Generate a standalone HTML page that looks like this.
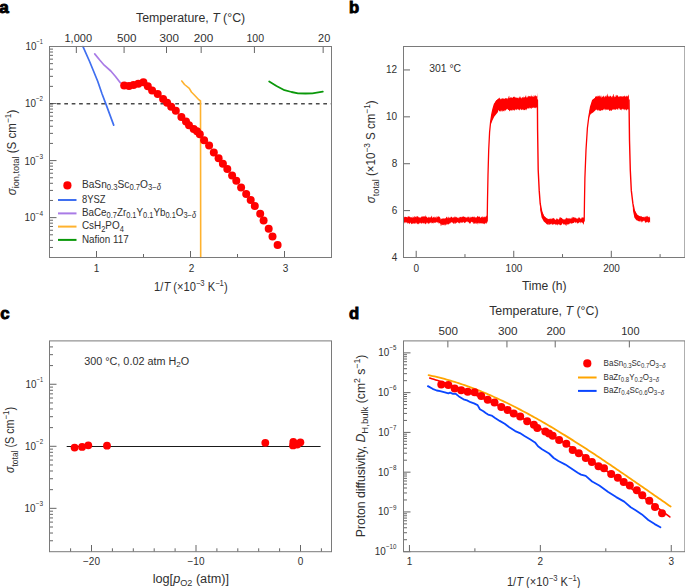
<!DOCTYPE html>
<html><head><meta charset="utf-8"><style>
html,body{margin:0;padding:0;background:#fff;}
svg{display:block;font-family:"Liberation Sans", sans-serif;}
</style></head><body>
<svg width="685" height="588" viewBox="0 0 685 588">
<rect width="685" height="588" fill="#fff"/>
<text x="-0.70" y="12.90" font-size="17.2" text-anchor="start" font-weight="bold" fill="#000" style="" stroke="#000" stroke-width="0.9">a</text>
<line x1="49.50" y1="46.50" x2="56.50" y2="46.50" stroke="#666666" stroke-width="1" />
<line x1="49.50" y1="86.37" x2="53.00" y2="86.37" stroke="#666666" stroke-width="1" />
<line x1="49.50" y1="76.33" x2="53.00" y2="76.33" stroke="#666666" stroke-width="1" />
<line x1="49.50" y1="69.20" x2="53.00" y2="69.20" stroke="#666666" stroke-width="1" />
<line x1="49.50" y1="63.67" x2="53.00" y2="63.67" stroke="#666666" stroke-width="1" />
<line x1="49.50" y1="59.15" x2="53.00" y2="59.15" stroke="#666666" stroke-width="1" />
<line x1="49.50" y1="55.34" x2="53.00" y2="55.34" stroke="#666666" stroke-width="1" />
<line x1="49.50" y1="52.03" x2="53.00" y2="52.03" stroke="#666666" stroke-width="1" />
<line x1="49.50" y1="49.11" x2="53.00" y2="49.11" stroke="#666666" stroke-width="1" />
<line x1="49.50" y1="103.54" x2="56.50" y2="103.54" stroke="#666666" stroke-width="1" />
<line x1="49.50" y1="143.41" x2="53.00" y2="143.41" stroke="#666666" stroke-width="1" />
<line x1="49.50" y1="133.37" x2="53.00" y2="133.37" stroke="#666666" stroke-width="1" />
<line x1="49.50" y1="126.24" x2="53.00" y2="126.24" stroke="#666666" stroke-width="1" />
<line x1="49.50" y1="120.71" x2="53.00" y2="120.71" stroke="#666666" stroke-width="1" />
<line x1="49.50" y1="116.20" x2="53.00" y2="116.20" stroke="#666666" stroke-width="1" />
<line x1="49.50" y1="112.38" x2="53.00" y2="112.38" stroke="#666666" stroke-width="1" />
<line x1="49.50" y1="109.07" x2="53.00" y2="109.07" stroke="#666666" stroke-width="1" />
<line x1="49.50" y1="106.15" x2="53.00" y2="106.15" stroke="#666666" stroke-width="1" />
<line x1="49.50" y1="160.59" x2="56.50" y2="160.59" stroke="#666666" stroke-width="1" />
<line x1="49.50" y1="200.46" x2="53.00" y2="200.46" stroke="#666666" stroke-width="1" />
<line x1="49.50" y1="190.41" x2="53.00" y2="190.41" stroke="#666666" stroke-width="1" />
<line x1="49.50" y1="183.29" x2="53.00" y2="183.29" stroke="#666666" stroke-width="1" />
<line x1="49.50" y1="177.76" x2="53.00" y2="177.76" stroke="#666666" stroke-width="1" />
<line x1="49.50" y1="173.24" x2="53.00" y2="173.24" stroke="#666666" stroke-width="1" />
<line x1="49.50" y1="169.42" x2="53.00" y2="169.42" stroke="#666666" stroke-width="1" />
<line x1="49.50" y1="166.11" x2="53.00" y2="166.11" stroke="#666666" stroke-width="1" />
<line x1="49.50" y1="163.20" x2="53.00" y2="163.20" stroke="#666666" stroke-width="1" />
<line x1="49.50" y1="217.63" x2="56.50" y2="217.63" stroke="#666666" stroke-width="1" />
<line x1="49.50" y1="247.46" x2="53.00" y2="247.46" stroke="#666666" stroke-width="1" />
<line x1="49.50" y1="240.33" x2="53.00" y2="240.33" stroke="#666666" stroke-width="1" />
<line x1="49.50" y1="234.80" x2="53.00" y2="234.80" stroke="#666666" stroke-width="1" />
<line x1="49.50" y1="230.28" x2="53.00" y2="230.28" stroke="#666666" stroke-width="1" />
<line x1="49.50" y1="226.46" x2="53.00" y2="226.46" stroke="#666666" stroke-width="1" />
<line x1="49.50" y1="223.16" x2="53.00" y2="223.16" stroke="#666666" stroke-width="1" />
<line x1="49.50" y1="220.24" x2="53.00" y2="220.24" stroke="#666666" stroke-width="1" />
<line x1="96.50" y1="257.50" x2="96.50" y2="251.00" stroke="#666666" stroke-width="1" />
<line x1="190.50" y1="257.50" x2="190.50" y2="251.00" stroke="#666666" stroke-width="1" />
<line x1="284.50" y1="257.50" x2="284.50" y2="251.00" stroke="#666666" stroke-width="1" />
<line x1="143.50" y1="257.50" x2="143.50" y2="254.00" stroke="#666666" stroke-width="1" />
<line x1="237.50" y1="257.50" x2="237.50" y2="254.00" stroke="#666666" stroke-width="1" />
<line x1="76.33" y1="46.50" x2="76.33" y2="53.00" stroke="#666666" stroke-width="1" />
<line x1="124.08" y1="46.50" x2="124.08" y2="53.00" stroke="#666666" stroke-width="1" />
<line x1="166.51" y1="46.50" x2="166.51" y2="53.00" stroke="#666666" stroke-width="1" />
<line x1="201.17" y1="46.50" x2="201.17" y2="53.00" stroke="#666666" stroke-width="1" />
<line x1="254.41" y1="46.50" x2="254.41" y2="53.00" stroke="#666666" stroke-width="1" />
<line x1="323.15" y1="46.50" x2="323.15" y2="53.00" stroke="#666666" stroke-width="1" />
<line x1="49.5" y1="103.8" x2="331.5" y2="103.8" stroke="#4a4a4a" stroke-width="1.5" stroke-dasharray="3.7 3.7"/>
<polyline points="83.00,46.60 89.60,61.50 97.70,81.30 102.00,93.70 106.40,105.40 113.70,125.10" fill="none" stroke="#3f6ff0" stroke-width="1.7" stroke-linejoin="round" stroke-linecap="round" />
<polyline points="94.70,53.90 99.50,59.80 104.20,65.20 110.80,71.00 115.50,76.50 120.30,82.70" fill="none" stroke="#a97be6" stroke-width="1.7" stroke-linejoin="round" stroke-linecap="round" />
<polyline points="181.80,81.00 184.50,84.50 189.30,88.40 191.40,92.00 194.60,95.20 198.80,99.70 200.50,101.00 200.70,257.50" fill="none" stroke="#ffb22e" stroke-width="1.6" stroke-linejoin="round" stroke-linecap="round" />
<polyline points="269.20,81.50 276.50,86.00 284.50,90.20 291.50,92.00 298.00,93.30 305.50,93.50 312.40,93.30 322.80,91.60" fill="none" stroke="#0a980a" stroke-width="1.8" stroke-linejoin="round" stroke-linecap="round" />
<circle cx="124.20" cy="85.50" r="4.0" fill="#ff0000"/>
<circle cx="129.00" cy="85.90" r="4.0" fill="#ff0000"/>
<circle cx="133.50" cy="85.00" r="4.0" fill="#ff0000"/>
<circle cx="138.30" cy="83.70" r="4.0" fill="#ff0000"/>
<circle cx="143.40" cy="82.20" r="4.0" fill="#ff0000"/>
<circle cx="147.80" cy="86.20" r="4.0" fill="#ff0000"/>
<circle cx="152.10" cy="90.60" r="4.0" fill="#ff0000"/>
<circle cx="157.70" cy="93.90" r="4.0" fill="#ff0000"/>
<circle cx="163.10" cy="99.10" r="4.0" fill="#ff0000"/>
<circle cx="167.10" cy="102.70" r="4.0" fill="#ff0000"/>
<circle cx="171.20" cy="106.70" r="4.0" fill="#ff0000"/>
<circle cx="175.80" cy="110.80" r="4.0" fill="#ff0000"/>
<circle cx="181.40" cy="116.90" r="4.0" fill="#ff0000"/>
<circle cx="186.00" cy="121.50" r="4.0" fill="#ff0000"/>
<circle cx="189.00" cy="125.20" r="4.0" fill="#ff0000"/>
<circle cx="193.70" cy="129.00" r="4.0" fill="#ff0000"/>
<circle cx="197.00" cy="131.20" r="4.0" fill="#ff0000"/>
<circle cx="199.80" cy="134.30" r="4.0" fill="#ff0000"/>
<circle cx="204.10" cy="140.20" r="4.0" fill="#ff0000"/>
<circle cx="209.10" cy="145.60" r="4.0" fill="#ff0000"/>
<circle cx="213.80" cy="152.50" r="4.0" fill="#ff0000"/>
<circle cx="218.60" cy="158.20" r="4.0" fill="#ff0000"/>
<circle cx="222.90" cy="163.70" r="4.0" fill="#ff0000"/>
<circle cx="227.30" cy="169.00" r="4.0" fill="#ff0000"/>
<circle cx="232.10" cy="175.40" r="4.0" fill="#ff0000"/>
<circle cx="236.30" cy="180.70" r="4.0" fill="#ff0000"/>
<circle cx="241.10" cy="187.40" r="4.0" fill="#ff0000"/>
<circle cx="246.20" cy="193.90" r="4.0" fill="#ff0000"/>
<circle cx="250.70" cy="200.00" r="4.0" fill="#ff0000"/>
<circle cx="254.80" cy="206.00" r="4.0" fill="#ff0000"/>
<circle cx="260.20" cy="213.70" r="4.0" fill="#ff0000"/>
<circle cx="263.60" cy="220.60" r="4.0" fill="#ff0000"/>
<circle cx="268.70" cy="228.70" r="4.0" fill="#ff0000"/>
<circle cx="272.50" cy="236.60" r="4.0" fill="#ff0000"/>
<circle cx="277.60" cy="244.90" r="4.0" fill="#ff0000"/>
<rect x="49.5" y="46.5" width="282.0" height="211.0" fill="none" stroke="#7a7a7a" stroke-width="1"/>
<text x="136.00" y="22.30" font-size="12.5" text-anchor="start" font-weight="normal" fill="#303030" textLength="109.20" lengthAdjust="spacingAndGlyphs" style="" >Temperature, <tspan font-style="italic">T</tspan> (°C)</text>
<text x="64.50" y="41.90" font-size="10" text-anchor="start" font-weight="normal" fill="#303030" textLength="27.50" lengthAdjust="spacingAndGlyphs" style="" >1,000</text>
<text x="117.00" y="41.90" font-size="10" text-anchor="start" font-weight="normal" fill="#303030" textLength="19.40" lengthAdjust="spacingAndGlyphs" style="" >500</text>
<text x="159.50" y="41.90" font-size="10" text-anchor="start" font-weight="normal" fill="#303030" textLength="19.40" lengthAdjust="spacingAndGlyphs" style="" >300</text>
<text x="193.80" y="41.90" font-size="10" text-anchor="start" font-weight="normal" fill="#303030" textLength="19.50" lengthAdjust="spacingAndGlyphs" style="" >200</text>
<text x="246.50" y="41.90" font-size="10" text-anchor="start" font-weight="normal" fill="#303030" textLength="17.60" lengthAdjust="spacingAndGlyphs" style="" >100</text>
<text x="318.10" y="41.90" font-size="10" text-anchor="start" font-weight="normal" fill="#303030" textLength="12.20" lengthAdjust="spacingAndGlyphs" style="" >20</text>
<text x="43.00" y="44.20" font-size="6.7" text-anchor="end" font-weight="normal" fill="#303030" textLength="6.40" lengthAdjust="spacingAndGlyphs" style="" >−1</text>
<text x="36.50" y="49.70" font-size="10.0" text-anchor="end" font-weight="normal" fill="#303030" textLength="11.00" lengthAdjust="spacingAndGlyphs" style="" >10</text>
<text x="43.00" y="101.44" font-size="6.7" text-anchor="end" font-weight="normal" fill="#303030" textLength="7.00" lengthAdjust="spacingAndGlyphs" style="" >−2</text>
<text x="35.90" y="106.99" font-size="10.0" text-anchor="end" font-weight="normal" fill="#303030" textLength="11.00" lengthAdjust="spacingAndGlyphs" style="" >10</text>
<text x="43.00" y="158.79" font-size="6.7" text-anchor="end" font-weight="normal" fill="#303030" textLength="7.40" lengthAdjust="spacingAndGlyphs" style="" >−3</text>
<text x="35.50" y="164.54" font-size="10.0" text-anchor="end" font-weight="normal" fill="#303030" textLength="11.00" lengthAdjust="spacingAndGlyphs" style="" >10</text>
<text x="43.00" y="215.63" font-size="6.7" text-anchor="end" font-weight="normal" fill="#303030" textLength="7.40" lengthAdjust="spacingAndGlyphs" style="" >−4</text>
<text x="35.50" y="221.23" font-size="10.0" text-anchor="end" font-weight="normal" fill="#303030" textLength="11.00" lengthAdjust="spacingAndGlyphs" style="" >10</text>
<text x="96.50" y="271.50" font-size="10" text-anchor="middle" font-weight="normal" fill="#303030" style="" >1</text>
<text x="191.60" y="271.50" font-size="10" text-anchor="middle" font-weight="normal" fill="#303030" style="" >2</text>
<text x="285.60" y="271.50" font-size="10" text-anchor="middle" font-weight="normal" fill="#303030" style="" >3</text>
<text x="154.10" y="290.60" font-size="12.5" text-anchor="start" font-weight="normal" fill="#303030" textLength="73.50" lengthAdjust="spacingAndGlyphs" style="" >1/<tspan font-style="italic">T</tspan> (×10<tspan font-size="8.6" dy="-4.8">−3</tspan><tspan dy="4.8"> K</tspan><tspan font-size="8.6" dy="-4.8">−1</tspan><tspan dy="4.8">)</tspan></text>
<text transform="translate(15.60,195.20) rotate(-90)" x="0" y="0" font-size="12.5" fill="#303030" textLength="85.50" lengthAdjust="spacingAndGlyphs"><tspan font-style="italic">σ</tspan><tspan font-size="9.8" dy="3.2">ion,total</tspan><tspan dy="-3.2"> (S cm</tspan><tspan font-size="9" dy="-5">−1</tspan><tspan dy="5">)</tspan></text>
<circle cx="67.40" cy="185.40" r="4.1" fill="#ff0000"/>
<line x1="58.00" y1="200.00" x2="76.50" y2="200.00" stroke="#3f6ff0" stroke-width="2" />
<line x1="58.00" y1="213.40" x2="76.50" y2="213.40" stroke="#a97be6" stroke-width="2" />
<line x1="58.00" y1="226.60" x2="76.50" y2="226.60" stroke="#ffb22e" stroke-width="2" />
<line x1="58.00" y1="239.90" x2="76.50" y2="239.90" stroke="#0a980a" stroke-width="2" />
<text x="81.90" y="187.80" font-size="11.0" text-anchor="start" font-weight="normal" fill="#303030" textLength="79.20" lengthAdjust="spacingAndGlyphs" style="" >BaSn<tspan font-size="8.3" dy="2.5">0.3</tspan><tspan dy="-2.5">Sc</tspan><tspan font-size="8.3" dy="2.5">0.7</tspan><tspan dy="-2.5">O</tspan><tspan font-size="8.3" dy="2.5">3−<tspan font-style='italic'>δ</tspan></tspan></text>
<text x="81.90" y="202.80" font-size="11.0" text-anchor="start" font-weight="normal" fill="#303030" textLength="23.60" lengthAdjust="spacingAndGlyphs" style="" >8YSZ</text>
<text x="81.90" y="215.90" font-size="11.0" text-anchor="start" font-weight="normal" fill="#303030" textLength="114.20" lengthAdjust="spacingAndGlyphs" style="" >BaCe<tspan font-size="8.3" dy="2.5">0.7</tspan><tspan dy="-2.5">Zr</tspan><tspan font-size="8.3" dy="2.5">0.1</tspan><tspan dy="-2.5">Y</tspan><tspan font-size="8.3" dy="2.5">0.1</tspan><tspan dy="-2.5">Yb</tspan><tspan font-size="8.3" dy="2.5">0.1</tspan><tspan dy="-2.5">O</tspan><tspan font-size="8.3" dy="2.5">3−<tspan font-style='italic'>δ</tspan></tspan></text>
<text x="81.90" y="229.20" font-size="11.0" text-anchor="start" font-weight="normal" fill="#303030" textLength="42.00" lengthAdjust="spacingAndGlyphs" style="" >CsH<tspan font-size="8.3" dy="2.5">2</tspan><tspan dy="-2.5">PO</tspan><tspan font-size="8.3" dy="2.5">4</tspan></text>
<text x="81.90" y="242.90" font-size="11.0" text-anchor="start" font-weight="normal" fill="#303030" textLength="46.80" lengthAdjust="spacingAndGlyphs" style="" >Nafion 117</text>
<text x="349.00" y="12.90" font-size="16.6" text-anchor="start" font-weight="bold" fill="#000" style="" stroke="#000" stroke-width="0.9">b</text>
<line x1="403.50" y1="257.50" x2="410.00" y2="257.50" stroke="#666666" stroke-width="1" />
<line x1="403.50" y1="210.61" x2="410.00" y2="210.61" stroke="#666666" stroke-width="1" />
<line x1="403.50" y1="163.72" x2="410.00" y2="163.72" stroke="#666666" stroke-width="1" />
<line x1="403.50" y1="116.83" x2="410.00" y2="116.83" stroke="#666666" stroke-width="1" />
<line x1="403.50" y1="69.94" x2="410.00" y2="69.94" stroke="#666666" stroke-width="1" />
<line x1="416.20" y1="257.50" x2="416.20" y2="250.80" stroke="#666666" stroke-width="1" />
<line x1="513.75" y1="257.50" x2="513.75" y2="250.80" stroke="#666666" stroke-width="1" />
<line x1="611.30" y1="257.50" x2="611.30" y2="250.80" stroke="#666666" stroke-width="1" />
<line x1="464.97" y1="257.50" x2="464.97" y2="254.10" stroke="#666666" stroke-width="1" />
<line x1="562.52" y1="257.50" x2="562.52" y2="254.10" stroke="#666666" stroke-width="1" />
<line x1="660.08" y1="257.50" x2="660.08" y2="254.10" stroke="#666666" stroke-width="1" />
<polygon points="403.20,217.44 403.50,217.89 403.80,217.49 404.10,217.47 404.40,216.78 404.70,217.02 405.00,216.43 405.30,216.99 405.60,216.66 405.90,217.06 406.20,217.07 406.50,217.02 406.80,217.37 407.10,216.45 407.40,217.37 407.70,217.77 408.00,216.07 408.30,216.23 408.60,216.28 408.90,216.98 409.20,217.10 409.50,216.65 409.80,216.11 410.10,216.81 410.40,217.41 410.70,217.27 411.00,217.31 411.30,217.18 411.60,216.95 411.90,217.80 412.20,217.61 412.50,217.94 412.80,216.21 413.10,217.02 413.40,216.53 413.70,217.64 414.00,217.26 414.30,216.02 414.60,216.07 414.90,217.94 415.20,216.18 415.50,216.82 415.80,217.29 416.10,216.13 416.40,215.93 416.70,217.85 417.00,216.59 417.30,215.82 417.60,216.39 417.90,216.59 418.20,217.56 418.50,217.24 418.80,216.18 419.10,217.42 419.40,216.72 419.70,217.91 420.00,217.49 420.30,217.74 420.60,217.30 420.90,217.44 421.20,216.40 421.50,216.35 421.80,217.40 422.10,215.79 422.40,216.79 422.70,216.41 423.00,216.98 423.30,216.05 423.60,216.59 423.90,216.60 424.20,216.46 424.50,216.43 424.80,216.49 425.10,215.11 425.40,215.64 425.70,216.67 426.00,216.39 426.30,216.44 426.60,217.30 426.90,216.58 427.20,217.59 427.50,217.59 427.80,218.10 428.10,218.33 428.40,216.86 428.70,217.19 429.00,216.34 429.30,217.98 429.60,217.14 429.90,217.32 430.20,217.25 430.50,217.45 430.80,217.48 431.10,215.80 431.40,215.79 431.70,217.20 432.00,216.04 432.30,217.89 432.60,217.43 432.90,217.68 433.20,216.47 433.50,217.47 433.80,216.80 434.10,218.36 434.40,216.50 434.70,216.66 435.00,217.63 435.30,216.46 435.60,217.44 435.90,217.57 436.20,218.45 436.50,216.60 436.80,216.14 437.10,217.39 437.40,216.06 437.70,217.02 438.00,217.32 438.30,216.12 438.60,216.68 438.90,216.28 439.20,216.48 439.50,217.20 439.80,216.66 440.10,217.89 440.40,217.82 440.70,219.73 441.00,219.11 441.30,218.13 441.60,219.06 441.90,219.32 442.20,218.25 442.50,218.98 442.80,218.36 443.10,218.14 443.40,218.66 443.70,218.22 444.00,218.41 444.30,217.87 444.60,218.63 444.90,218.94 445.20,217.96 445.50,218.29 445.80,218.45 446.10,217.10 446.40,216.46 446.70,217.47 447.00,216.91 447.30,218.38 447.60,218.10 447.90,216.72 448.20,216.83 448.50,216.76 448.80,218.44 449.10,217.17 449.40,217.54 449.70,218.12 450.00,218.14 450.30,217.87 450.60,216.44 450.90,217.55 451.20,216.68 451.50,217.08 451.80,216.26 452.10,217.87 452.40,217.49 452.70,217.40 453.00,217.74 453.30,217.20 453.60,217.31 453.90,217.47 454.20,217.65 454.50,216.01 454.80,217.25 455.10,216.24 455.40,217.77 455.70,216.67 456.00,216.83 456.30,217.09 456.60,217.85 456.90,216.78 457.20,217.96 457.50,217.45 457.80,217.79 458.10,217.47 458.40,218.39 458.70,216.94 459.00,218.63 459.30,216.81 459.60,217.76 459.90,216.76 460.20,216.74 460.50,216.97 460.80,216.99 461.10,217.74 461.40,216.49 461.70,217.18 462.00,216.84 462.30,217.31 462.60,216.02 462.90,216.96 463.20,216.12 463.50,216.21 463.80,217.02 464.10,216.69 464.40,217.06 464.70,216.76 465.00,216.95 465.30,218.12 465.60,216.99 465.90,216.87 466.20,217.59 466.50,217.41 466.80,217.46 467.10,217.89 467.40,217.06 467.70,216.65 468.00,216.57 468.30,217.05 468.60,217.40 468.90,216.25 469.20,216.67 469.50,217.19 469.80,218.39 470.10,217.64 470.40,216.56 470.70,216.97 471.00,218.19 471.30,216.88 471.60,216.90 471.90,216.85 472.20,216.74 472.50,217.19 472.80,216.22 473.10,217.37 473.40,217.27 473.70,216.21 474.00,217.18 474.30,217.52 474.60,216.60 474.90,216.50 475.20,216.95 475.50,218.02 475.80,217.37 476.10,217.33 476.40,216.64 476.70,217.88 477.00,217.12 477.30,216.27 477.60,215.66 477.90,216.35 478.20,216.17 478.50,216.74 478.80,217.26 479.10,216.26 479.40,216.36 479.70,217.17 480.00,216.73 480.30,217.87 480.60,217.79 480.90,217.78 481.20,216.99 481.50,216.55 481.80,217.29 482.10,217.39 482.40,217.22 482.70,215.72 483.00,216.88 483.30,217.80 483.60,216.78 483.90,216.81 484.20,216.28 484.50,217.17 484.80,217.16 485.10,216.42 485.40,217.36 485.70,217.34 486.00,215.49 486.30,216.71 486.60,215.87 486.90,215.44 487.20,216.18 487.20,222.99 486.90,222.60 486.60,223.69 486.30,223.72 486.00,222.60 485.70,223.17 485.40,223.82 485.10,223.06 484.80,223.50 484.50,224.47 484.20,223.89 483.90,223.60 483.60,223.50 483.30,224.18 483.00,223.19 482.70,223.72 482.40,223.74 482.10,222.75 481.80,224.07 481.50,223.22 481.20,223.04 480.90,223.83 480.60,223.21 480.30,223.30 480.00,222.88 479.70,222.76 479.40,223.94 479.10,223.46 478.80,222.71 478.50,222.84 478.20,224.03 477.90,224.80 477.60,223.52 477.30,223.05 477.00,223.23 476.70,224.06 476.40,223.75 476.10,222.60 475.80,222.66 475.50,223.63 475.20,223.60 474.90,223.70 474.60,223.13 474.30,223.48 474.00,223.69 473.70,224.01 473.40,223.44 473.10,222.14 472.80,222.16 472.50,221.92 472.20,223.12 471.90,221.62 471.60,222.03 471.30,221.93 471.00,222.29 470.70,223.64 470.40,222.44 470.10,223.78 469.80,223.59 469.50,223.25 469.20,223.54 468.90,222.17 468.60,222.57 468.30,221.75 468.00,222.81 467.70,221.51 467.40,221.35 467.10,222.30 466.80,222.11 466.50,221.30 466.20,221.67 465.90,222.57 465.60,221.68 465.30,223.01 465.00,222.67 464.70,223.21 464.40,223.07 464.10,222.43 463.80,222.60 463.50,221.93 463.20,221.71 462.90,222.64 462.60,223.18 462.30,221.89 462.00,222.36 461.70,222.75 461.40,222.18 461.10,223.30 460.80,222.11 460.50,222.21 460.20,223.30 459.90,223.02 459.60,222.82 459.30,224.23 459.00,222.30 458.70,223.56 458.40,222.42 458.10,222.99 457.80,221.63 457.50,222.22 457.20,222.42 456.90,223.06 456.60,222.79 456.30,222.51 456.00,223.60 455.70,223.44 455.40,224.09 455.10,222.58 454.80,222.31 454.50,224.21 454.20,223.24 453.90,223.79 453.60,224.24 453.30,222.91 453.00,223.10 452.70,222.33 452.40,223.18 452.10,222.34 451.80,222.92 451.50,222.02 451.20,222.04 450.90,222.74 450.60,222.58 450.30,223.68 450.00,222.98 449.70,223.48 449.40,224.31 449.10,223.30 448.80,224.69 448.50,224.22 448.20,224.18 447.90,224.58 447.60,223.79 447.30,224.12 447.00,225.18 446.70,224.84 446.40,223.57 446.10,224.63 445.80,224.35 445.50,225.94 445.20,224.72 444.90,225.71 444.60,224.91 444.30,224.36 444.00,224.85 443.70,225.01 443.40,224.62 443.10,225.43 442.80,225.35 442.50,224.81 442.20,224.86 441.90,224.80 441.60,224.28 441.30,225.85 441.00,226.02 440.70,225.75 440.40,223.20 440.10,224.31 439.80,222.75 439.50,223.15 439.20,223.14 438.90,223.79 438.60,223.32 438.30,222.21 438.00,222.55 437.70,221.83 437.40,223.15 437.10,222.54 436.80,221.73 436.50,222.24 436.20,222.53 435.90,222.24 435.60,223.25 435.30,222.79 435.00,222.34 434.70,223.36 434.40,222.67 434.10,222.60 433.80,222.47 433.50,223.94 433.20,222.44 432.90,222.75 432.60,223.59 432.30,223.09 432.00,223.05 431.70,223.70 431.40,222.58 431.10,222.37 430.80,222.79 430.50,222.13 430.20,222.88 429.90,223.21 429.60,222.62 429.30,224.07 429.00,223.09 428.70,224.27 428.40,223.91 428.10,222.92 427.80,222.16 427.50,223.81 427.20,222.93 426.90,223.76 426.60,222.77 426.30,222.53 426.00,224.53 425.70,224.21 425.40,223.63 425.10,223.71 424.80,223.14 424.50,223.90 424.20,222.47 423.90,223.23 423.60,222.93 423.30,224.33 423.00,222.56 422.70,223.56 422.40,222.52 422.10,223.72 421.80,222.84 421.50,223.47 421.20,224.25 420.90,223.53 420.60,222.40 420.30,223.00 420.00,223.60 419.70,222.42 419.40,224.12 419.10,223.27 418.80,223.48 418.50,224.58 418.20,223.95 417.90,223.43 417.60,223.65 417.30,224.34 417.00,224.22 416.70,223.05 416.40,222.51 416.10,223.80 415.80,224.17 415.50,222.50 415.20,223.12 414.90,223.63 414.60,222.70 414.30,224.31 414.00,223.68 413.70,223.18 413.40,223.12 413.10,223.96 412.80,223.42 412.50,223.59 412.20,223.68 411.90,224.19 411.60,223.61 411.30,224.35 411.00,223.58 410.70,222.70 410.40,222.60 410.10,223.23 409.80,224.31 409.50,223.08 409.20,224.47 408.90,222.83 408.60,223.01 408.30,223.45 408.00,223.35 407.70,224.12 407.40,223.09 407.10,222.62 406.80,222.28 406.50,223.09 406.20,222.42 405.90,221.68 405.60,222.34 405.30,223.05 405.00,223.34 404.70,223.58 404.40,221.88 404.10,222.42 403.80,223.73 403.50,223.39 403.20,222.58" fill="#ff0000" stroke="none"/>
<polygon points="546.50,219.36 546.80,218.68 547.10,218.75 547.40,217.73 547.70,218.99 548.00,219.32 548.30,218.94 548.60,219.12 548.90,218.71 549.20,218.61 549.50,219.18 549.80,218.63 550.10,218.81 550.40,219.15 550.70,217.68 551.00,219.40 551.30,218.92 551.60,218.97 551.90,217.81 552.20,218.34 552.50,218.65 552.80,218.49 553.10,217.87 553.40,218.32 553.70,218.30 554.00,218.28 554.30,218.48 554.60,219.33 554.90,219.31 555.20,220.07 555.50,219.60 555.80,219.78 556.10,219.54 556.40,218.47 556.70,218.04 557.00,219.43 557.30,218.14 557.60,219.39 557.90,218.58 558.20,220.27 558.50,218.78 558.80,219.47 559.10,218.90 559.40,218.18 559.70,216.86 560.00,218.48 560.30,217.68 560.60,217.25 560.90,216.87 561.20,218.30 561.50,217.67 561.80,217.90 562.10,217.91 562.40,218.93 562.70,218.97 563.00,219.21 563.30,219.10 563.60,218.96 563.90,220.28 564.20,219.65 564.50,219.02 564.80,219.50 565.10,218.37 565.40,218.82 565.70,219.67 566.00,218.07 566.30,218.55 566.60,217.84 566.90,217.51 567.20,217.96 567.50,218.31 567.80,218.63 568.10,218.52 568.40,218.53 568.70,218.62 569.00,218.02 569.30,218.43 569.60,218.53 569.90,218.56 570.20,218.29 570.50,218.81 570.80,218.81 571.10,218.37 571.40,218.93 571.70,217.05 572.00,218.21 572.30,218.23 572.60,216.53 572.90,217.19 573.20,216.88 573.50,217.46 573.80,217.19 574.10,217.16 574.40,217.50 574.70,217.53 575.00,218.59 575.30,217.42 575.60,218.02 575.90,217.50 576.20,218.10 576.50,218.81 576.80,218.62 577.10,218.18 577.40,218.87 577.70,219.12 578.00,217.72 578.30,217.06 578.60,218.87 578.90,217.59 579.20,217.24 579.50,218.06 579.80,217.60 580.10,218.56 580.40,218.74 580.70,218.60 581.00,218.52 581.30,218.63 581.60,217.56 581.90,217.58 582.20,218.11 582.50,217.30 582.80,217.32 583.10,217.08 583.40,217.51 583.70,218.07 584.00,217.55 584.00,222.82 583.70,224.74 583.40,224.47 583.10,223.70 582.80,222.30 582.50,223.55 582.20,222.96 581.90,221.69 581.60,222.39 581.30,222.19 581.00,223.62 580.70,223.33 580.40,222.48 580.10,221.67 579.80,222.18 579.50,222.08 579.20,222.87 578.90,223.47 578.60,222.65 578.30,222.84 578.00,223.15 577.70,222.74 577.40,223.47 577.10,223.96 576.80,222.78 576.50,222.29 576.20,221.99 575.90,223.02 575.60,222.32 575.30,223.51 575.00,221.55 574.70,221.95 574.40,222.39 574.10,222.39 573.80,223.11 573.50,222.99 573.20,223.05 572.90,223.50 572.60,223.56 572.30,222.99 572.00,222.97 571.70,223.17 571.40,223.88 571.10,223.72 570.80,223.10 570.50,222.80 570.20,223.84 569.90,224.50 569.60,223.42 569.30,223.43 569.00,223.70 568.70,224.24 568.40,224.23 568.10,224.87 567.80,224.36 567.50,224.82 567.20,224.38 566.90,223.75 566.60,224.78 566.30,225.97 566.00,225.63 565.70,225.11 565.40,225.16 565.10,223.92 564.80,224.11 564.50,225.03 564.20,224.17 563.90,224.55 563.60,224.69 563.30,224.08 563.00,223.65 562.70,223.30 562.40,223.46 562.10,223.56 561.80,224.57 561.50,224.83 561.20,224.97 560.90,225.10 560.60,225.18 560.30,225.18 560.00,225.31 559.70,224.97 559.40,223.63 559.10,225.14 558.80,224.01 558.50,223.98 558.20,225.11 557.90,223.82 557.60,225.61 557.30,225.16 557.00,224.96 556.70,224.77 556.40,223.96 556.10,224.82 555.80,224.47 555.50,224.08 555.20,225.38 554.90,224.13 554.60,224.21 554.30,223.80 554.00,224.32 553.70,224.11 553.40,224.16 553.10,224.88 552.80,224.45 552.50,225.02 552.20,224.20 551.90,224.35 551.60,224.45 551.30,223.19 551.00,224.37 550.70,224.00 550.40,224.52 550.10,224.14 549.80,225.18 549.50,224.56 549.20,224.19 548.90,223.36 548.60,224.73 548.30,224.65 548.00,224.66 547.70,225.02 547.40,224.36 547.10,223.96 546.80,224.13 546.50,223.40" fill="#ff0000" stroke="none"/>
<polygon points="634.50,214.11 634.80,213.15 635.10,213.88 635.40,213.69 635.70,213.51 636.00,214.30 636.30,215.54 636.60,216.15 636.90,216.27 637.20,215.62 637.50,215.60 637.80,215.26 638.10,215.43 638.40,216.40 638.70,216.55 639.00,216.35 639.30,216.05 639.60,216.68 639.90,215.70 640.20,216.65 640.50,216.32 640.80,215.75 641.10,216.30 641.40,216.20 641.70,216.23 642.00,217.07 642.30,216.70 642.60,217.01 642.90,216.92 643.20,217.15 643.50,216.79 643.80,216.82 644.10,217.65 644.40,216.85 644.70,216.57 645.00,217.46 645.30,216.72 645.60,216.07 645.90,216.93 646.20,217.34 646.50,215.82 646.80,216.18 647.10,215.83 647.40,216.03 647.70,216.95 648.00,216.27 648.30,216.88 648.60,216.95 648.90,217.38 649.20,215.88 649.50,217.44 649.80,217.33 650.10,217.81 650.10,222.65 649.80,222.53 649.50,221.95 649.20,221.87 648.90,222.02 648.60,222.47 648.30,223.23 648.00,222.63 647.70,221.66 647.40,221.86 647.10,222.15 646.80,221.91 646.50,222.32 646.20,222.59 645.90,222.16 645.60,222.59 645.30,222.91 645.00,222.54 644.70,221.24 644.40,220.74 644.10,220.77 643.80,220.63 643.50,220.80 643.20,221.24 642.90,221.55 642.60,221.03 642.30,222.45 642.00,221.46 641.70,222.73 641.40,222.08 641.10,220.63 640.80,222.15 640.50,221.21 640.20,220.19 639.90,221.49 639.60,220.03 639.30,220.38 639.00,221.31 638.70,220.91 638.40,221.47 638.10,220.32 637.80,219.18 637.50,220.08 637.20,219.80 636.90,218.71 636.60,218.49 636.30,217.97 636.00,219.54 635.70,219.15 635.40,218.72 635.10,217.85 634.80,217.88 634.50,218.42" fill="#ff0000" stroke="none"/>
<polygon points="497.50,99.80 497.80,99.18 498.10,98.35 498.40,98.26 498.70,98.74 499.00,99.44 499.30,97.84 499.60,97.85 499.90,97.86 500.20,98.64 500.50,99.00 500.80,99.38 501.10,99.06 501.40,99.20 501.70,98.21 502.00,98.35 502.30,97.92 502.60,99.19 502.90,97.92 503.20,98.59 503.50,98.47 503.80,98.80 504.10,98.49 504.40,99.05 504.70,98.71 505.00,98.40 505.30,97.86 505.60,98.29 505.90,98.42 506.20,98.47 506.50,97.67 506.80,98.65 507.10,98.02 507.40,99.44 507.70,98.03 508.00,98.59 508.30,98.06 508.60,95.83 508.90,97.09 509.20,95.50 509.50,98.03 509.80,98.23 510.10,97.57 510.40,97.53 510.70,97.86 511.00,96.71 511.30,97.59 511.60,97.85 511.90,97.41 512.20,98.02 512.50,97.55 512.80,97.63 513.10,97.08 513.40,96.82 513.70,96.91 514.00,96.48 514.30,97.37 514.60,96.34 514.90,97.44 515.20,97.95 515.50,96.72 515.80,97.74 516.10,96.80 516.40,97.80 516.70,97.89 517.00,98.06 517.30,97.99 517.60,97.33 517.90,98.10 518.20,98.53 518.50,98.04 518.80,97.61 519.10,96.98 519.40,96.09 519.70,98.19 520.00,96.96 520.30,97.37 520.60,98.13 520.90,95.80 521.20,97.87 521.50,98.56 521.80,98.37 522.10,97.53 522.40,97.34 522.70,96.63 523.00,97.96 523.30,97.85 523.60,96.46 523.90,96.68 524.20,97.22 524.50,97.42 524.80,97.22 525.10,96.59 525.40,95.31 525.70,97.38 526.00,94.62 526.30,97.56 526.60,96.64 526.90,97.96 527.20,97.64 527.50,96.37 527.80,97.02 528.10,95.73 528.40,95.70 528.70,96.97 529.00,95.87 529.30,96.30 529.60,95.90 529.90,96.43 530.20,96.61 530.50,96.30 530.80,96.41 531.10,94.21 531.40,97.06 531.70,95.76 532.00,95.78 532.30,96.83 532.60,96.02 532.90,96.68 533.20,96.91 533.50,96.71 533.80,95.15 534.10,95.11 534.40,96.17 534.70,96.38 535.00,96.02 535.30,96.17 535.60,95.24 535.90,95.07 536.20,96.27 536.50,96.47 536.80,96.07 537.10,96.13 537.40,92.78 537.40,108.30 537.10,106.99 536.80,106.99 536.50,107.58 536.20,108.17 535.90,107.79 535.60,108.61 535.30,107.78 535.00,107.20 534.70,107.86 534.40,108.27 534.10,107.87 533.80,106.95 533.50,107.78 533.20,108.18 532.90,107.32 532.60,108.01 532.30,107.96 532.00,107.88 531.70,107.61 531.40,109.06 531.10,108.95 530.80,107.83 530.50,108.07 530.20,108.67 529.90,107.50 529.60,107.69 529.30,108.86 529.00,108.50 528.70,108.50 528.40,108.42 528.10,108.32 527.80,108.58 527.50,108.49 527.20,108.16 526.90,109.01 526.60,109.20 526.30,110.26 526.00,110.32 525.70,109.02 525.40,109.53 525.10,110.14 524.80,109.94 524.50,110.35 524.20,110.06 523.90,109.70 523.60,110.58 523.30,109.15 523.00,109.89 522.70,109.64 522.40,109.05 522.10,109.87 521.80,110.19 521.50,109.96 521.20,109.72 520.90,108.57 520.60,109.75 520.30,108.86 520.00,110.39 519.70,110.28 519.40,110.25 519.10,109.36 518.80,110.34 518.50,109.25 518.20,109.46 517.90,109.31 517.60,109.73 517.30,109.09 517.00,108.70 516.70,109.75 516.40,110.36 516.10,109.84 515.80,109.68 515.50,109.60 515.20,109.27 514.90,109.79 514.60,111.09 514.30,110.49 514.00,110.06 513.70,110.53 513.40,110.04 513.10,109.73 512.80,109.64 512.50,109.73 512.20,111.02 511.90,110.23 511.60,109.68 511.30,111.32 511.00,110.14 510.70,110.49 510.40,110.14 510.10,110.37 509.80,111.46 509.50,111.01 509.20,110.84 508.90,110.01 508.60,110.00 508.30,109.76 508.00,110.25 507.70,108.82 507.40,109.23 507.10,108.76 506.80,110.14 506.50,108.85 506.20,109.45 505.90,110.34 505.60,110.53 505.30,110.40 505.00,110.70 504.70,109.71 504.40,111.07 504.10,111.38 503.80,111.21 503.50,110.72 503.20,110.64 502.90,111.89 502.60,111.14 502.30,110.82 502.00,110.33 501.70,110.55 501.40,111.00 501.10,111.64 500.80,111.03 500.50,110.43 500.20,112.22 499.90,110.95 499.60,111.31 499.30,111.61 499.00,110.99 498.70,110.01 498.40,110.00 498.10,111.60 497.80,110.01 497.50,110.68" fill="#ff0000" stroke="none"/>
<polygon points="595.00,96.35 595.30,96.77 595.60,97.19 595.90,95.95 596.20,96.66 596.50,96.55 596.80,95.70 597.10,96.29 597.40,96.95 597.70,95.76 598.00,95.41 598.30,95.65 598.60,96.84 598.90,95.83 599.20,96.82 599.50,95.98 599.80,94.99 600.10,96.23 600.40,96.16 600.70,97.48 601.00,94.22 601.30,97.22 601.60,97.93 601.90,96.08 602.20,96.79 602.50,96.59 602.80,97.19 603.10,96.12 603.40,95.57 603.70,96.07 604.00,96.95 604.30,95.93 604.60,97.18 604.90,97.40 605.20,96.39 605.50,95.42 605.80,96.53 606.10,94.69 606.40,95.71 606.70,96.84 607.00,96.72 607.30,93.62 607.60,93.89 607.90,95.87 608.20,96.83 608.50,96.68 608.80,95.77 609.10,95.50 609.40,96.75 609.70,96.47 610.00,96.58 610.30,95.59 610.60,96.35 610.90,95.57 611.20,96.88 611.50,97.44 611.80,96.09 612.10,97.64 612.40,96.04 612.70,96.05 613.00,95.26 613.30,93.92 613.60,93.96 613.90,96.55 614.20,95.71 614.50,97.39 614.80,96.64 615.10,97.01 615.40,96.94 615.70,95.51 616.00,94.92 616.30,96.39 616.60,94.57 616.90,95.45 617.20,95.29 617.50,95.48 617.80,95.36 618.10,96.32 618.40,96.57 618.70,97.22 619.00,96.16 619.30,96.18 619.60,97.15 619.90,95.90 620.20,96.00 620.50,96.05 620.80,97.01 621.10,95.97 621.40,96.46 621.70,96.42 622.00,96.43 622.30,96.72 622.60,96.85 622.90,95.74 623.20,96.25 623.50,96.60 623.80,96.15 624.10,96.37 624.40,96.17 624.70,95.11 625.00,96.46 625.30,96.59 625.60,96.80 625.90,96.35 626.20,96.23 626.50,96.44 626.80,95.57 627.10,95.80 627.40,95.99 627.70,96.78 628.00,96.61 628.30,95.59 628.60,94.65 628.90,94.59 628.90,109.48 628.60,109.66 628.30,109.04 628.00,109.82 627.70,109.50 627.40,109.26 627.10,109.24 626.80,110.00 626.50,110.58 626.20,110.48 625.90,108.92 625.60,110.12 625.30,109.25 625.00,110.09 624.70,108.70 624.40,110.09 624.10,110.37 623.80,109.61 623.50,109.40 623.20,108.72 622.90,109.31 622.60,108.46 622.30,109.13 622.00,109.48 621.70,109.08 621.40,110.02 621.10,110.50 620.80,109.78 620.50,110.08 620.20,109.60 619.90,108.06 619.60,109.94 619.30,108.63 619.00,108.37 618.70,107.93 618.40,108.81 618.10,109.99 617.80,109.23 617.50,109.88 617.20,109.16 616.90,108.57 616.60,109.26 616.30,108.88 616.00,109.78 615.70,109.53 615.40,109.73 615.10,109.78 614.80,109.79 614.50,108.81 614.20,110.31 613.90,108.87 613.60,109.21 613.30,110.06 613.00,109.96 612.70,109.75 612.40,109.45 612.10,109.51 611.80,111.06 611.50,110.80 611.20,110.42 610.90,110.67 610.60,110.09 610.30,110.70 610.00,110.22 609.70,110.79 609.40,111.00 609.10,110.65 608.80,109.69 608.50,109.43 608.20,109.45 607.90,109.88 607.60,109.76 607.30,109.47 607.00,109.16 606.70,109.63 606.40,109.89 606.10,109.32 605.80,110.80 605.50,109.58 605.20,109.20 604.90,108.73 604.60,108.79 604.30,110.32 604.00,109.63 603.70,109.19 603.40,109.31 603.10,110.25 602.80,110.22 602.50,110.10 602.20,110.40 601.90,110.43 601.60,109.97 601.30,109.98 601.00,111.02 600.70,110.99 600.40,110.54 600.10,110.84 599.80,109.86 599.50,110.99 599.20,110.91 598.90,110.91 598.60,110.20 598.30,109.83 598.00,109.72 597.70,110.79 597.40,110.78 597.10,109.85 596.80,109.82 596.50,109.98 596.20,109.23 595.90,109.98 595.60,109.68 595.30,110.10 595.00,110.80" fill="#ff0000" stroke="none"/>
<polyline points="487.20,221.00 487.50,200.00 488.00,175.00 488.70,150.00 489.60,132.00 490.60,122.00 491.70,115.00 493.00,109.00 494.50,104.00 496.50,101.00 498.50,99.50" fill="none" stroke="#ff0000" stroke-width="1.3" stroke-linejoin="round" stroke-linecap="round" />
<polygon points="490.20,126.00 491.20,118.00 492.60,110.50 494.20,104.50 496.20,100.60 498.00,99.40 498.00,112.00 496.40,114.00 494.20,116.80 492.40,120.50 491.00,124.00" fill="#ff0000" stroke="none"/>
<polyline points="537.40,100.00 537.60,130.00 538.20,170.00 539.20,190.40 540.20,203.70 541.70,211.80 543.80,216.90 547.30,220.20" fill="none" stroke="#ff0000" stroke-width="1.4" stroke-linejoin="round" stroke-linecap="round" />
<polygon points="540.40,205.00 541.90,211.50 543.80,215.80 547.00,218.60 547.00,224.20 543.80,221.60 541.60,217.50 540.20,210.00" fill="#ff0000" stroke="none"/>
<polyline points="584.20,221.00 584.50,200.00 584.90,178.00 586.00,150.00 587.40,128.00 588.80,117.00 590.50,107.30 592.70,100.20 595.50,98.20" fill="none" stroke="#ff0000" stroke-width="1.3" stroke-linejoin="round" stroke-linecap="round" />
<polygon points="588.40,120.00 589.60,111.00 591.30,104.00 593.20,99.60 595.30,98.00 595.30,110.60 593.10,112.60 590.80,114.00 589.40,116.50" fill="#ff0000" stroke="none"/>
<polyline points="629.00,100.00 629.50,140.00 630.30,170.00 631.30,190.40 632.90,203.70 634.40,210.80 636.90,215.90 641.50,219.00" fill="none" stroke="#ff0000" stroke-width="1.4" stroke-linejoin="round" stroke-linecap="round" />
<polygon points="632.70,205.00 634.40,210.20 636.80,214.30 640.00,216.60 640.00,221.60 636.40,220.20 634.20,216.50 633.00,211.00" fill="#ff0000" stroke="none"/>
<rect x="403.5" y="46.5" width="281.4" height="211.0" fill="none" stroke="#7a7a7a" stroke-width="1"/>
<text x="429.20" y="72.10" font-size="10" text-anchor="start" font-weight="normal" fill="#303030" textLength="31.90" lengthAdjust="spacingAndGlyphs" style="" >301 °C</text>
<text x="397.20" y="261.00" font-size="10" text-anchor="end" font-weight="normal" fill="#303030" style="" >4</text>
<text x="397.20" y="214.11" font-size="10" text-anchor="end" font-weight="normal" fill="#303030" style="" >6</text>
<text x="397.20" y="167.22" font-size="10" text-anchor="end" font-weight="normal" fill="#303030" style="" >8</text>
<text x="397.20" y="120.33" font-size="10" text-anchor="end" font-weight="normal" fill="#303030" style="" >10</text>
<text x="397.20" y="73.44" font-size="10" text-anchor="end" font-weight="normal" fill="#303030" style="" >12</text>
<text x="416.40" y="271.80" font-size="10" text-anchor="middle" font-weight="normal" fill="#303030" style="" >0</text>
<text x="513.95" y="271.80" font-size="10" text-anchor="middle" font-weight="normal" fill="#303030" style="" >100</text>
<text x="611.50" y="271.80" font-size="10" text-anchor="middle" font-weight="normal" fill="#303030" style="" >200</text>
<text x="521.90" y="290.40" font-size="12.5" text-anchor="start" font-weight="normal" fill="#303030" textLength="44.60" lengthAdjust="spacingAndGlyphs" style="" >Time (h)</text>
<text transform="translate(375.30,203.30) rotate(-90)" x="0" y="0" font-size="12.5" fill="#303030" textLength="103.00" lengthAdjust="spacingAndGlyphs"><tspan font-style="italic">σ</tspan><tspan font-size="9.8" dy="3.2">total</tspan><tspan dy="-3.2"> (×10</tspan><tspan font-size="9" dy="-5">−3</tspan><tspan dy="5"> S cm</tspan><tspan font-size="9" dy="-5">−1</tspan><tspan dy="5">)</tspan></text>
<text x="0.30" y="319.00" font-size="16.8" text-anchor="start" font-weight="bold" fill="#000" style="" stroke="#000" stroke-width="0.9">c</text>
<line x1="49.50" y1="384.26" x2="56.50" y2="384.26" stroke="#666666" stroke-width="1" />
<line x1="49.50" y1="446.30" x2="56.50" y2="446.30" stroke="#666666" stroke-width="1" />
<line x1="49.50" y1="508.34" x2="56.50" y2="508.34" stroke="#666666" stroke-width="1" />
<line x1="49.50" y1="365.59" x2="53.00" y2="365.59" stroke="#666666" stroke-width="1" />
<line x1="49.50" y1="354.66" x2="53.00" y2="354.66" stroke="#666666" stroke-width="1" />
<line x1="49.50" y1="346.91" x2="53.00" y2="346.91" stroke="#666666" stroke-width="1" />
<line x1="49.50" y1="427.62" x2="53.00" y2="427.62" stroke="#666666" stroke-width="1" />
<line x1="49.50" y1="416.70" x2="53.00" y2="416.70" stroke="#666666" stroke-width="1" />
<line x1="49.50" y1="408.95" x2="53.00" y2="408.95" stroke="#666666" stroke-width="1" />
<line x1="49.50" y1="402.94" x2="53.00" y2="402.94" stroke="#666666" stroke-width="1" />
<line x1="49.50" y1="398.03" x2="53.00" y2="398.03" stroke="#666666" stroke-width="1" />
<line x1="49.50" y1="393.87" x2="53.00" y2="393.87" stroke="#666666" stroke-width="1" />
<line x1="49.50" y1="390.27" x2="53.00" y2="390.27" stroke="#666666" stroke-width="1" />
<line x1="49.50" y1="387.10" x2="53.00" y2="387.10" stroke="#666666" stroke-width="1" />
<line x1="49.50" y1="489.66" x2="53.00" y2="489.66" stroke="#666666" stroke-width="1" />
<line x1="49.50" y1="478.74" x2="53.00" y2="478.74" stroke="#666666" stroke-width="1" />
<line x1="49.50" y1="470.99" x2="53.00" y2="470.99" stroke="#666666" stroke-width="1" />
<line x1="49.50" y1="464.98" x2="53.00" y2="464.98" stroke="#666666" stroke-width="1" />
<line x1="49.50" y1="460.06" x2="53.00" y2="460.06" stroke="#666666" stroke-width="1" />
<line x1="49.50" y1="455.91" x2="53.00" y2="455.91" stroke="#666666" stroke-width="1" />
<line x1="49.50" y1="452.31" x2="53.00" y2="452.31" stroke="#666666" stroke-width="1" />
<line x1="49.50" y1="449.14" x2="53.00" y2="449.14" stroke="#666666" stroke-width="1" />
<line x1="49.50" y1="540.78" x2="53.00" y2="540.78" stroke="#666666" stroke-width="1" />
<line x1="49.50" y1="533.02" x2="53.00" y2="533.02" stroke="#666666" stroke-width="1" />
<line x1="49.50" y1="527.01" x2="53.00" y2="527.01" stroke="#666666" stroke-width="1" />
<line x1="49.50" y1="522.10" x2="53.00" y2="522.10" stroke="#666666" stroke-width="1" />
<line x1="49.50" y1="517.95" x2="53.00" y2="517.95" stroke="#666666" stroke-width="1" />
<line x1="49.50" y1="514.35" x2="53.00" y2="514.35" stroke="#666666" stroke-width="1" />
<line x1="49.50" y1="511.18" x2="53.00" y2="511.18" stroke="#666666" stroke-width="1" />
<line x1="91.50" y1="551.70" x2="91.50" y2="545.00" stroke="#666666" stroke-width="1" />
<line x1="196.00" y1="551.70" x2="196.00" y2="545.00" stroke="#666666" stroke-width="1" />
<line x1="300.50" y1="551.70" x2="300.50" y2="545.00" stroke="#666666" stroke-width="1" />
<line x1="70.60" y1="551.70" x2="70.60" y2="548.30" stroke="#666666" stroke-width="1" />
<line x1="112.40" y1="551.70" x2="112.40" y2="548.30" stroke="#666666" stroke-width="1" />
<line x1="133.30" y1="551.70" x2="133.30" y2="548.30" stroke="#666666" stroke-width="1" />
<line x1="154.20" y1="551.70" x2="154.20" y2="548.30" stroke="#666666" stroke-width="1" />
<line x1="175.10" y1="551.70" x2="175.10" y2="548.30" stroke="#666666" stroke-width="1" />
<line x1="216.90" y1="551.70" x2="216.90" y2="548.30" stroke="#666666" stroke-width="1" />
<line x1="237.80" y1="551.70" x2="237.80" y2="548.30" stroke="#666666" stroke-width="1" />
<line x1="258.70" y1="551.70" x2="258.70" y2="548.30" stroke="#666666" stroke-width="1" />
<line x1="279.60" y1="551.70" x2="279.60" y2="548.30" stroke="#666666" stroke-width="1" />
<line x1="321.40" y1="551.70" x2="321.40" y2="548.30" stroke="#666666" stroke-width="1" />
<line x1="66.70" y1="446.50" x2="320.60" y2="446.50" stroke="#1a1a1a" stroke-width="1.0" />
<circle cx="74.60" cy="447.60" r="3.9" fill="#ff0000"/>
<circle cx="82.10" cy="446.90" r="3.9" fill="#ff0000"/>
<circle cx="88.30" cy="445.30" r="3.9" fill="#ff0000"/>
<circle cx="107.00" cy="445.70" r="3.9" fill="#ff0000"/>
<circle cx="265.30" cy="442.80" r="3.9" fill="#ff0000"/>
<circle cx="293.30" cy="441.90" r="3.9" fill="#ff0000"/>
<circle cx="293.00" cy="445.40" r="3.9" fill="#ff0000"/>
<circle cx="297.30" cy="444.50" r="3.9" fill="#ff0000"/>
<circle cx="300.40" cy="442.30" r="3.9" fill="#ff0000"/>
<rect x="49.5" y="340.9" width="282.0" height="210.80000000000007" fill="none" stroke="#7a7a7a" stroke-width="1"/>
<text x="84.20" y="364.60" font-size="10" text-anchor="start" font-weight="normal" fill="#303030" textLength="105.00" lengthAdjust="spacingAndGlyphs" style="" >300 °C, 0.02 atm H<tspan font-size="7.5" dy="2.5">2</tspan><tspan dy="-2.5">O</tspan></text>
<text x="43.10" y="381.86" font-size="6.7" text-anchor="end" font-weight="normal" fill="#303030" textLength="6.40" lengthAdjust="spacingAndGlyphs" style="" >−1</text>
<text x="36.60" y="387.66" font-size="10.0" text-anchor="end" font-weight="normal" fill="#303030" textLength="11.00" lengthAdjust="spacingAndGlyphs" style="" >10</text>
<text x="43.10" y="443.90" font-size="6.7" text-anchor="end" font-weight="normal" fill="#303030" textLength="7.00" lengthAdjust="spacingAndGlyphs" style="" >−2</text>
<text x="36.00" y="449.70" font-size="10.0" text-anchor="end" font-weight="normal" fill="#303030" textLength="11.00" lengthAdjust="spacingAndGlyphs" style="" >10</text>
<text x="43.10" y="505.94" font-size="6.7" text-anchor="end" font-weight="normal" fill="#303030" textLength="7.40" lengthAdjust="spacingAndGlyphs" style="" >−3</text>
<text x="35.60" y="511.74" font-size="10.0" text-anchor="end" font-weight="normal" fill="#303030" textLength="11.00" lengthAdjust="spacingAndGlyphs" style="" >10</text>
<text x="91.50" y="565.10" font-size="10" text-anchor="middle" font-weight="normal" fill="#303030" style="" >−20</text>
<text x="196.00" y="565.10" font-size="10" text-anchor="middle" font-weight="normal" fill="#303030" style="" >−10</text>
<text x="300.50" y="565.10" font-size="10" text-anchor="middle" font-weight="normal" fill="#303030" style="" >0</text>
<text x="152.70" y="583.10" font-size="12.5" text-anchor="start" font-weight="normal" fill="#303030" textLength="76.30" lengthAdjust="spacingAndGlyphs" style="" >log[<tspan font-style="italic">p</tspan><tspan font-size="9" dy="3.3">O2</tspan><tspan dy="-3.3"> (atm)]</tspan></text>
<text transform="translate(14.30,473.00) rotate(-90)" x="0" y="0" font-size="12.5" fill="#303030" textLength="66.00" lengthAdjust="spacingAndGlyphs"><tspan font-style="italic">σ</tspan><tspan font-size="9.8" dy="3.2">total</tspan><tspan dy="-3.2"> (S cm</tspan><tspan font-size="9" dy="-5">−1</tspan><tspan dy="5">)</tspan></text>
<text x="349.00" y="318.80" font-size="16.6" text-anchor="start" font-weight="bold" fill="#000" style="" stroke="#000" stroke-width="0.9">d</text>
<line x1="403.50" y1="352.87" x2="410.50" y2="352.87" stroke="#666666" stroke-width="1" />
<line x1="403.50" y1="392.64" x2="410.50" y2="392.64" stroke="#666666" stroke-width="1" />
<line x1="403.50" y1="380.67" x2="407.00" y2="380.67" stroke="#666666" stroke-width="1" />
<line x1="403.50" y1="373.66" x2="407.00" y2="373.66" stroke="#666666" stroke-width="1" />
<line x1="403.50" y1="368.70" x2="407.00" y2="368.70" stroke="#666666" stroke-width="1" />
<line x1="403.50" y1="364.84" x2="407.00" y2="364.84" stroke="#666666" stroke-width="1" />
<line x1="403.50" y1="361.69" x2="407.00" y2="361.69" stroke="#666666" stroke-width="1" />
<line x1="403.50" y1="359.03" x2="407.00" y2="359.03" stroke="#666666" stroke-width="1" />
<line x1="403.50" y1="356.72" x2="407.00" y2="356.72" stroke="#666666" stroke-width="1" />
<line x1="403.50" y1="354.69" x2="407.00" y2="354.69" stroke="#666666" stroke-width="1" />
<line x1="403.50" y1="432.40" x2="410.50" y2="432.40" stroke="#666666" stroke-width="1" />
<line x1="403.50" y1="420.43" x2="407.00" y2="420.43" stroke="#666666" stroke-width="1" />
<line x1="403.50" y1="413.43" x2="407.00" y2="413.43" stroke="#666666" stroke-width="1" />
<line x1="403.50" y1="408.46" x2="407.00" y2="408.46" stroke="#666666" stroke-width="1" />
<line x1="403.50" y1="404.61" x2="407.00" y2="404.61" stroke="#666666" stroke-width="1" />
<line x1="403.50" y1="401.46" x2="407.00" y2="401.46" stroke="#666666" stroke-width="1" />
<line x1="403.50" y1="398.80" x2="407.00" y2="398.80" stroke="#666666" stroke-width="1" />
<line x1="403.50" y1="396.49" x2="407.00" y2="396.49" stroke="#666666" stroke-width="1" />
<line x1="403.50" y1="394.46" x2="407.00" y2="394.46" stroke="#666666" stroke-width="1" />
<line x1="403.50" y1="472.17" x2="410.50" y2="472.17" stroke="#666666" stroke-width="1" />
<line x1="403.50" y1="460.20" x2="407.00" y2="460.20" stroke="#666666" stroke-width="1" />
<line x1="403.50" y1="453.20" x2="407.00" y2="453.20" stroke="#666666" stroke-width="1" />
<line x1="403.50" y1="448.23" x2="407.00" y2="448.23" stroke="#666666" stroke-width="1" />
<line x1="403.50" y1="444.37" x2="407.00" y2="444.37" stroke="#666666" stroke-width="1" />
<line x1="403.50" y1="441.22" x2="407.00" y2="441.22" stroke="#666666" stroke-width="1" />
<line x1="403.50" y1="438.56" x2="407.00" y2="438.56" stroke="#666666" stroke-width="1" />
<line x1="403.50" y1="436.26" x2="407.00" y2="436.26" stroke="#666666" stroke-width="1" />
<line x1="403.50" y1="434.22" x2="407.00" y2="434.22" stroke="#666666" stroke-width="1" />
<line x1="403.50" y1="511.93" x2="410.50" y2="511.93" stroke="#666666" stroke-width="1" />
<line x1="403.50" y1="499.96" x2="407.00" y2="499.96" stroke="#666666" stroke-width="1" />
<line x1="403.50" y1="492.96" x2="407.00" y2="492.96" stroke="#666666" stroke-width="1" />
<line x1="403.50" y1="487.99" x2="407.00" y2="487.99" stroke="#666666" stroke-width="1" />
<line x1="403.50" y1="484.14" x2="407.00" y2="484.14" stroke="#666666" stroke-width="1" />
<line x1="403.50" y1="480.99" x2="407.00" y2="480.99" stroke="#666666" stroke-width="1" />
<line x1="403.50" y1="478.33" x2="407.00" y2="478.33" stroke="#666666" stroke-width="1" />
<line x1="403.50" y1="476.02" x2="407.00" y2="476.02" stroke="#666666" stroke-width="1" />
<line x1="403.50" y1="473.99" x2="407.00" y2="473.99" stroke="#666666" stroke-width="1" />
<line x1="403.50" y1="551.70" x2="410.50" y2="551.70" stroke="#666666" stroke-width="1" />
<line x1="403.50" y1="539.73" x2="407.00" y2="539.73" stroke="#666666" stroke-width="1" />
<line x1="403.50" y1="532.73" x2="407.00" y2="532.73" stroke="#666666" stroke-width="1" />
<line x1="403.50" y1="527.76" x2="407.00" y2="527.76" stroke="#666666" stroke-width="1" />
<line x1="403.50" y1="523.90" x2="407.00" y2="523.90" stroke="#666666" stroke-width="1" />
<line x1="403.50" y1="520.76" x2="407.00" y2="520.76" stroke="#666666" stroke-width="1" />
<line x1="403.50" y1="518.09" x2="407.00" y2="518.09" stroke="#666666" stroke-width="1" />
<line x1="403.50" y1="515.79" x2="407.00" y2="515.79" stroke="#666666" stroke-width="1" />
<line x1="403.50" y1="513.75" x2="407.00" y2="513.75" stroke="#666666" stroke-width="1" />
<line x1="409.45" y1="551.70" x2="409.45" y2="545.00" stroke="#666666" stroke-width="1" />
<line x1="540.35" y1="551.70" x2="540.35" y2="545.00" stroke="#666666" stroke-width="1" />
<line x1="671.25" y1="551.70" x2="671.25" y2="545.00" stroke="#666666" stroke-width="1" />
<line x1="474.90" y1="551.70" x2="474.90" y2="548.30" stroke="#666666" stroke-width="1" />
<line x1="605.80" y1="551.70" x2="605.80" y2="548.30" stroke="#666666" stroke-width="1" />
<line x1="447.86" y1="340.90" x2="447.86" y2="347.40" stroke="#666666" stroke-width="1" />
<line x1="506.94" y1="340.90" x2="506.94" y2="347.40" stroke="#666666" stroke-width="1" />
<line x1="555.21" y1="340.90" x2="555.21" y2="347.40" stroke="#666666" stroke-width="1" />
<line x1="629.35" y1="340.90" x2="629.35" y2="347.40" stroke="#666666" stroke-width="1" />
<polyline points="428.60,375.16 430.60,375.57 432.60,376.01 434.60,376.46 436.60,376.93 438.60,377.41 440.60,377.91 442.60,378.43 444.60,378.97 446.60,379.52 448.60,380.08 450.60,380.67 452.60,381.27 454.60,381.88 456.60,382.51 458.60,383.15 460.60,383.81 462.60,384.49 464.60,385.18 466.60,385.88 468.60,386.60 470.60,387.33 472.60,388.08 474.60,388.84 476.60,389.62 478.60,390.41 480.60,391.21 482.60,392.03 484.60,392.86 486.60,393.70 488.60,394.55 490.60,395.42 492.60,396.30 494.60,397.20 496.60,398.10 498.60,399.02 500.60,399.95 502.60,400.89 504.60,401.85 506.60,402.81 508.60,403.79 510.60,404.77 512.60,405.77 514.60,406.78 516.60,407.80 518.60,408.83 520.60,409.88 522.60,410.93 524.60,411.99 526.60,413.06 528.60,414.14 530.60,415.24 532.60,416.34 534.60,417.45 536.60,418.57 538.60,419.70 540.60,420.83 542.60,421.98 544.60,423.14 546.60,424.30 548.60,425.47 550.60,426.65 552.60,427.84 554.60,429.04 556.60,430.24 558.60,431.45 560.60,432.67 562.60,433.90 564.60,435.13 566.60,436.37 568.60,437.62 570.60,438.87 572.60,440.13 574.60,441.39 576.60,442.67 578.60,443.94 580.60,445.23 582.60,446.52 584.60,447.81 586.60,449.11 588.60,450.42 590.60,451.73 592.60,453.04 594.60,454.37 596.60,455.69 598.60,457.02 600.60,458.35 602.60,459.69 604.60,461.03 606.60,462.38 608.60,463.73 610.60,465.08 612.60,466.44 614.60,467.80 616.60,469.16 618.60,470.52 620.60,471.89 622.60,473.26 624.60,474.63 626.60,476.01 628.60,477.39 630.60,478.77 632.60,480.15 634.60,481.53 636.60,482.91 638.60,484.30 640.60,485.69 642.60,487.07 644.60,488.46 646.60,489.85 648.60,491.24 650.60,492.63 652.60,494.02 654.60,495.41 656.60,496.80 658.60,498.19 660.60,499.58 662.60,500.97 664.60,502.36 666.60,503.75 668.60,505.14 670.60,506.52" fill="none" stroke="#ffa500" stroke-width="1.8" stroke-linejoin="round" stroke-linecap="round" />
<polyline points="429.80,378.06 431.80,378.67 433.80,379.30 435.80,379.95 437.80,380.60 439.80,381.26 441.80,381.94 443.80,382.63 445.80,383.33 447.80,384.05 449.80,384.77 451.80,385.51 453.80,386.25 455.80,387.01 457.80,387.78 459.80,388.56 461.80,389.35 463.80,390.16 465.80,390.97 467.80,391.80 469.80,392.63 471.80,393.48 473.80,394.33 475.80,395.20 477.80,396.08 479.80,396.97 481.80,397.87 483.80,398.78 485.80,399.70 487.80,400.62 489.80,401.56 491.80,402.51 493.80,403.47 495.80,404.44 497.80,405.42 499.80,406.41 501.80,407.40 503.80,408.41 505.80,409.43 507.80,410.45 509.80,411.49 511.80,412.53 513.80,413.58 515.80,414.64 517.80,415.71 519.80,416.79 521.80,417.88 523.80,418.98 525.80,420.08 527.80,421.20 529.80,422.32 531.80,423.45 533.80,424.59 535.80,425.73 537.80,426.89 539.80,428.05 541.80,429.22 543.80,430.40 545.80,431.59 547.80,432.78 549.80,433.98 551.80,435.19 553.80,436.41 555.80,437.63 557.80,438.86 559.80,440.10 561.80,441.35 563.80,442.60 565.80,443.86 567.80,445.12 569.80,446.40 571.80,447.68 573.80,448.96 575.80,450.26 577.80,451.56 579.80,452.86 581.80,454.17 583.80,455.49 585.80,456.82 587.80,458.15 589.80,459.48 591.80,460.83 593.80,462.18 595.80,463.53 597.80,464.89 599.80,466.25 601.80,467.63 603.80,469.00 605.80,470.38 607.80,471.77 609.80,473.16 611.80,474.56 613.80,475.96 615.80,477.37 617.80,478.78 619.80,480.20 621.80,481.62 623.80,483.05 625.80,484.48 627.80,485.91 629.80,487.35 631.80,488.80 633.80,490.25 635.80,491.70 637.80,493.16 639.80,494.62 641.80,496.08 643.80,497.55 645.80,499.02 647.80,500.50 649.80,501.98 651.80,503.46 653.80,504.95 655.80,506.44 657.80,507.93 659.80,509.43 661.80,510.93 663.80,512.43 665.80,513.93 667.80,515.44 669.80,516.95" fill="none" stroke="#ff0000" stroke-width="1.6" stroke-linejoin="round" stroke-linecap="round" />
<polyline points="427.90,386.10 432.60,388.80 436.70,390.50 440.20,391.10 444.90,392.30 448.40,393.40 450.10,392.60 453.00,393.80 455.60,393.80 458.90,396.40 463.50,399.30 467.00,400.40 470.50,402.20 474.00,403.40 477.60,405.10 479.90,409.30 483.40,411.30 485.70,413.00 488.10,414.60 491.60,415.60 495.10,418.00 499.70,420.90 504.70,423.80 509.30,427.30 515.20,431.10 519.90,433.10 524.50,436.00 530.40,439.50 535.00,442.40 538.00,446.30 542.00,449.30 549.10,453.50 553.70,458.00 558.40,461.00 565.40,464.60 568.00,466.20 577.70,472.70 581.00,474.60 585.70,475.90 592.10,481.50 599.30,485.50 608.20,491.90 616.20,497.10 624.20,501.60 630.70,507.20 636.00,510.40 641.90,514.40 648.30,520.00 654.70,524.10 660.40,527.30" fill="none" stroke="#0a46ff" stroke-width="1.8" stroke-linejoin="round" stroke-linecap="round" />
<circle cx="441.30" cy="384.50" r="4.0" fill="#ff0000"/>
<circle cx="448.30" cy="384.90" r="4.0" fill="#ff0000"/>
<circle cx="454.70" cy="388.60" r="4.0" fill="#ff0000"/>
<circle cx="461.20" cy="390.30" r="4.0" fill="#ff0000"/>
<circle cx="467.70" cy="391.70" r="4.0" fill="#ff0000"/>
<circle cx="474.60" cy="392.20" r="4.0" fill="#ff0000"/>
<circle cx="481.20" cy="395.90" r="4.0" fill="#ff0000"/>
<circle cx="487.70" cy="399.70" r="4.0" fill="#ff0000"/>
<circle cx="494.50" cy="402.60" r="4.0" fill="#ff0000"/>
<circle cx="501.30" cy="407.10" r="4.0" fill="#ff0000"/>
<circle cx="507.60" cy="409.90" r="4.0" fill="#ff0000"/>
<circle cx="513.70" cy="413.40" r="4.0" fill="#ff0000"/>
<circle cx="520.20" cy="416.40" r="4.0" fill="#ff0000"/>
<circle cx="527.20" cy="421.30" r="4.0" fill="#ff0000"/>
<circle cx="533.90" cy="424.80" r="4.0" fill="#ff0000"/>
<circle cx="537.30" cy="428.00" r="4.0" fill="#ff0000"/>
<circle cx="545.30" cy="431.60" r="4.0" fill="#ff0000"/>
<circle cx="549.00" cy="433.40" r="4.0" fill="#ff0000"/>
<circle cx="552.70" cy="435.80" r="4.0" fill="#ff0000"/>
<circle cx="559.10" cy="439.90" r="4.0" fill="#ff0000"/>
<circle cx="566.30" cy="443.80" r="4.0" fill="#ff0000"/>
<circle cx="572.70" cy="449.90" r="4.0" fill="#ff0000"/>
<circle cx="578.80" cy="453.20" r="4.0" fill="#ff0000"/>
<circle cx="585.80" cy="458.00" r="4.0" fill="#ff0000"/>
<circle cx="591.90" cy="462.00" r="4.0" fill="#ff0000"/>
<circle cx="598.50" cy="466.30" r="4.0" fill="#ff0000"/>
<circle cx="604.00" cy="468.30" r="4.0" fill="#ff0000"/>
<circle cx="611.20" cy="474.00" r="4.0" fill="#ff0000"/>
<circle cx="617.80" cy="477.70" r="4.0" fill="#ff0000"/>
<circle cx="623.70" cy="482.10" r="4.0" fill="#ff0000"/>
<circle cx="629.80" cy="485.40" r="4.0" fill="#ff0000"/>
<circle cx="636.80" cy="490.20" r="4.0" fill="#ff0000"/>
<circle cx="642.30" cy="495.20" r="4.0" fill="#ff0000"/>
<circle cx="649.30" cy="500.70" r="4.0" fill="#ff0000"/>
<circle cx="655.00" cy="506.90" r="4.0" fill="#ff0000"/>
<circle cx="662.00" cy="513.20" r="4.0" fill="#ff0000"/>
<rect x="403.5" y="340.9" width="281.4" height="210.80000000000007" fill="none" stroke="#7a7a7a" stroke-width="1"/>
<circle cx="587.30" cy="363.40" r="4.1" fill="#ff0000"/>
<line x1="578.00" y1="377.50" x2="596.60" y2="377.50" stroke="#ffa500" stroke-width="2" />
<line x1="578.00" y1="390.90" x2="596.60" y2="390.90" stroke="#0a46ff" stroke-width="2" />
<text x="603.60" y="366.00" font-size="9.4" text-anchor="start" font-weight="normal" fill="#303030" textLength="62.00" lengthAdjust="spacingAndGlyphs" style="" >BaSn<tspan font-size="7.0" dy="2.2">0.3</tspan><tspan dy="-2.2">Sc</tspan><tspan font-size="7.0" dy="2.2">0.7</tspan><tspan dy="-2.2">O</tspan><tspan font-size="7.0" dy="2.2">3−<tspan font-style='italic'>δ</tspan></tspan></text>
<text x="603.60" y="380.00" font-size="9.4" text-anchor="start" font-weight="normal" fill="#303030" textLength="55.40" lengthAdjust="spacingAndGlyphs" style="" >BaZr<tspan font-size="7.0" dy="2.2">0.8</tspan><tspan dy="-2.2">Y</tspan><tspan font-size="7.0" dy="2.2">0.2</tspan><tspan dy="-2.2">O</tspan><tspan font-size="7.0" dy="2.2">3−<tspan font-style='italic'>δ</tspan></tspan></text>
<text x="603.60" y="393.00" font-size="9.4" text-anchor="start" font-weight="normal" fill="#303030" textLength="60.50" lengthAdjust="spacingAndGlyphs" style="" >BaZr<tspan font-size="7.0" dy="2.2">0.4</tspan><tspan dy="-2.2">Sc</tspan><tspan font-size="7.0" dy="2.2">0.6</tspan><tspan dy="-2.2">O</tspan><tspan font-size="7.0" dy="2.2">3−<tspan font-style='italic'>δ</tspan></tspan></text>
<text x="489.20" y="315.00" font-size="12.5" text-anchor="start" font-weight="normal" fill="#303030" textLength="109.40" lengthAdjust="spacingAndGlyphs" style="" >Temperature, <tspan font-style="italic">T</tspan> (°C)</text>
<text x="438.60" y="334.60" font-size="10" text-anchor="start" font-weight="normal" fill="#303030" textLength="19.40" lengthAdjust="spacingAndGlyphs" style="" >500</text>
<text x="497.90" y="334.60" font-size="10" text-anchor="start" font-weight="normal" fill="#303030" textLength="19.60" lengthAdjust="spacingAndGlyphs" style="" >300</text>
<text x="546.40" y="334.60" font-size="10" text-anchor="start" font-weight="normal" fill="#303030" textLength="19.10" lengthAdjust="spacingAndGlyphs" style="" >200</text>
<text x="621.20" y="334.60" font-size="10" text-anchor="start" font-weight="normal" fill="#303030" textLength="18.30" lengthAdjust="spacingAndGlyphs" style="" >100</text>
<text x="396.40" y="350.47" font-size="6.7" text-anchor="end" font-weight="normal" fill="#303030" textLength="7.00" lengthAdjust="spacingAndGlyphs" style="" >−5</text>
<text x="389.30" y="356.37" font-size="10.0" text-anchor="end" font-weight="normal" fill="#303030" textLength="11.00" lengthAdjust="spacingAndGlyphs" style="" >10</text>
<text x="396.40" y="390.24" font-size="6.7" text-anchor="end" font-weight="normal" fill="#303030" textLength="7.20" lengthAdjust="spacingAndGlyphs" style="" >−6</text>
<text x="389.10" y="396.14" font-size="10.0" text-anchor="end" font-weight="normal" fill="#303030" textLength="11.00" lengthAdjust="spacingAndGlyphs" style="" >10</text>
<text x="396.40" y="430.00" font-size="6.7" text-anchor="end" font-weight="normal" fill="#303030" textLength="7.00" lengthAdjust="spacingAndGlyphs" style="" >−7</text>
<text x="389.30" y="435.90" font-size="10.0" text-anchor="end" font-weight="normal" fill="#303030" textLength="11.00" lengthAdjust="spacingAndGlyphs" style="" >10</text>
<text x="396.40" y="469.77" font-size="6.7" text-anchor="end" font-weight="normal" fill="#303030" textLength="7.20" lengthAdjust="spacingAndGlyphs" style="" >−8</text>
<text x="389.10" y="475.67" font-size="10.0" text-anchor="end" font-weight="normal" fill="#303030" textLength="11.00" lengthAdjust="spacingAndGlyphs" style="" >10</text>
<text x="396.40" y="509.53" font-size="6.7" text-anchor="end" font-weight="normal" fill="#303030" textLength="7.20" lengthAdjust="spacingAndGlyphs" style="" >−9</text>
<text x="389.10" y="515.43" font-size="10.0" text-anchor="end" font-weight="normal" fill="#303030" textLength="11.00" lengthAdjust="spacingAndGlyphs" style="" >10</text>
<text x="396.40" y="549.30" font-size="6.7" text-anchor="end" font-weight="normal" fill="#303030" textLength="10.50" lengthAdjust="spacingAndGlyphs" style="" >−10</text>
<text x="385.80" y="555.20" font-size="10.0" text-anchor="end" font-weight="normal" fill="#303030" textLength="11.00" lengthAdjust="spacingAndGlyphs" style="" >10</text>
<text x="409.45" y="565.00" font-size="10" text-anchor="middle" font-weight="normal" fill="#303030" style="" >1</text>
<text x="540.35" y="565.00" font-size="10" text-anchor="middle" font-weight="normal" fill="#303030" style="" >2</text>
<text x="671.25" y="565.00" font-size="10" text-anchor="middle" font-weight="normal" fill="#303030" style="" >3</text>
<text x="506.90" y="585.60" font-size="12.5" text-anchor="start" font-weight="normal" fill="#303030" textLength="73.60" lengthAdjust="spacingAndGlyphs" style="" >1/<tspan font-style="italic">T</tspan> (×10<tspan font-size="8.6" dy="-4.8">−3</tspan><tspan dy="4.8"> K</tspan><tspan font-size="8.6" dy="-4.8">−1</tspan><tspan dy="4.8">)</tspan></text>
<text transform="translate(364.50,537.20) rotate(-90)" x="0" y="0" font-size="12.5" fill="#303030" textLength="182.60" lengthAdjust="spacingAndGlyphs">Proton diffusivity, <tspan font-style="italic">D</tspan><tspan font-size="9.8" dy="3.2">H,bulk</tspan><tspan dy="-3.2"> (cm</tspan><tspan font-size="9" dy="-5">2</tspan><tspan dy="5"> s</tspan><tspan font-size="9" dy="-5">−1</tspan><tspan dy="5">)</tspan></text>
</svg></body></html>
